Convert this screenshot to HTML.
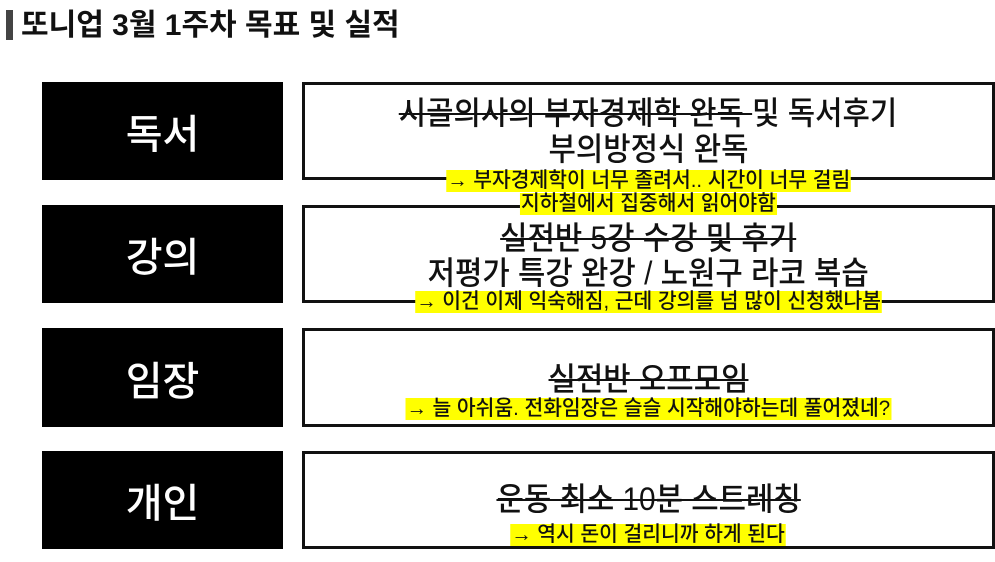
<!DOCTYPE html>
<html><head><meta charset="utf-8"><style>
body{margin:0;width:995px;height:562px;background:#fff;position:relative;overflow:hidden;font-family:"Liberation Sans","Noto Sans CJK KR",sans-serif;}
.t{position:absolute;left:6px;top:8px;font-size:30px;font-weight:bold;color:#111;line-height:36px;}
.t:before{content:"";display:inline-block;width:7px;height:30px;background:#444;vertical-align:-5px;margin-right:8px;}
.k{position:absolute;left:42px;width:241px;background:#000;color:#fff;font-size:40px;font-weight:500;display:flex;align-items:center;justify-content:center;}
.b{position:absolute;left:302px;width:687px;border:3px solid #111;}
.l{position:absolute;left:302px;width:693px;text-align:center;font-size:32px;font-weight:500;line-height:34px;color:#111;white-space:nowrap;}
.l>span{display:inline-block;transform:scaleX(0.93);}
.s{text-decoration:line-through;text-decoration-thickness:2px;}
.y{position:absolute;left:302px;width:693px;text-align:center;font-size:21px;font-weight:500;line-height:22px;white-space:nowrap;}
.y span{background:#ffff00;color:#111;padding:0 1px;display:inline-block;transform:scaleX(0.97);}
</style></head><body>
<div class="t">또니업 3월 1주차 목표 및 실적</div>
<div class="k" style="top:82px;height:98px">독서</div>
<div class="k" style="top:205px;height:98px">강의</div>
<div class="k" style="top:328px;height:99px">임장</div>
<div class="k" style="top:451px;height:98px">개인</div>
<div class="b" style="top:82px;height:92px"></div>
<div class="b" style="top:205px;height:92px"></div>
<div class="b" style="top:328px;height:93px"></div>
<div class="b" style="top:451px;height:92px"></div>
<div class="l" style="top:96px"><span><span class="s">시골의사의 부자경제학 완독 </span>및 독서후기</span></div>
<div class="l" style="top:132px"><span>부의방정식 완독</span></div>
<div class="y" style="top:170px"><span>→ 부자경제학이 너무 졸려서.. 시간이 너무 걸림</span></div>
<div class="y" style="top:193px"><span>지하철에서 집중해서 읽어야함</span></div>
<div class="l" style="top:221px"><span class="s">실전반 5강 수강 및 후기</span></div>
<div class="l" style="top:256px"><span>저평가 특강 완강 / 노원구 라코 복습</span></div>
<div class="y" style="top:291px"><span>→ 이건 이제 익숙해짐, 근데 강의를 넘 많이 신청했나봄</span></div>
<div class="l" style="top:362px"><span class="s">실전반 오프모임</span></div>
<div class="y" style="top:398px"><span>→ 늘 아쉬움. 전화임장은 슬슬 시작해야하는데 풀어졌네?</span></div>
<div class="l" style="top:482px"><span class="s">운동 최소 10분 스트레칭</span></div>
<div class="y" style="top:524px"><span>→ 역시 돈이 걸리니까 하게 된다</span></div>
</body></html>
